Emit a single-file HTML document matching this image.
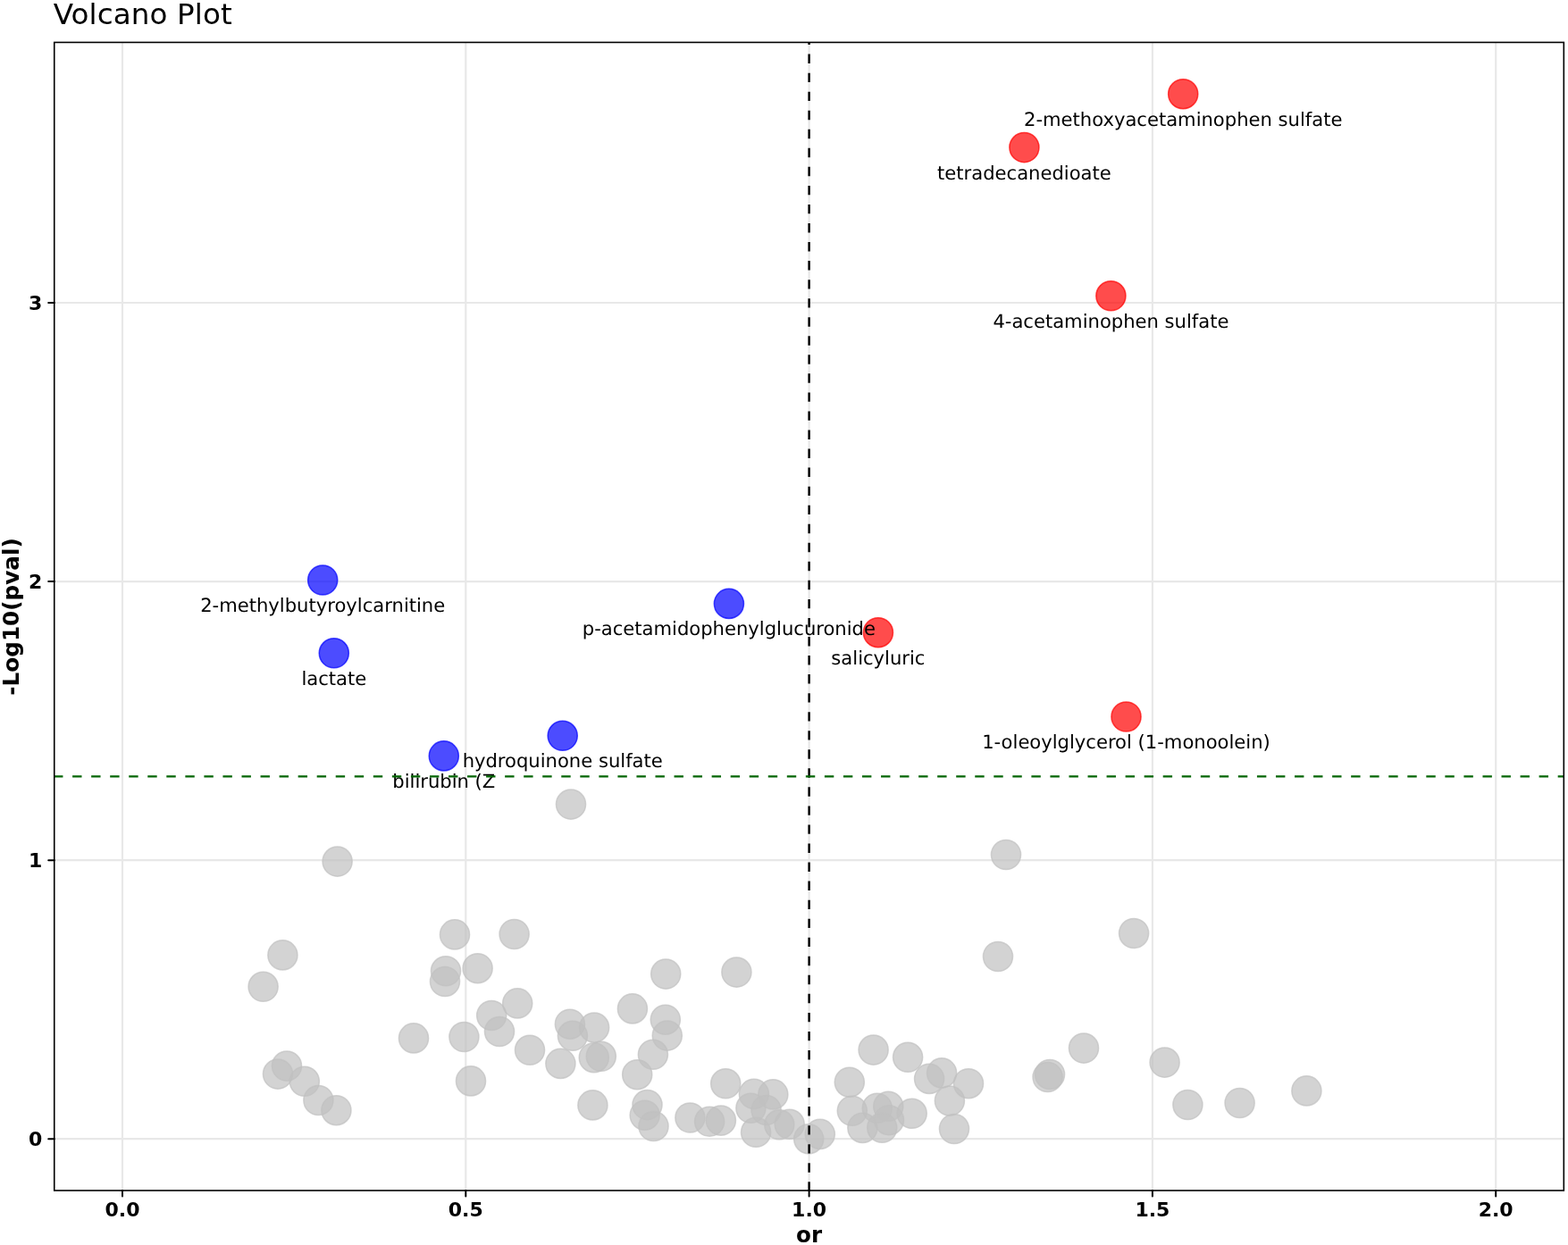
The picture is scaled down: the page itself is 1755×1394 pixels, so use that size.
<!DOCTYPE html>
<html><head><meta charset="utf-8"><title>Volcano Plot</title>
<style>
html,body{margin:0;padding:0;background:#ffffff;}
svg{display:block;}
text{font-family:"DejaVu Sans","Liberation Sans",sans-serif;}
</style></head><body>
<svg width="1755" height="1394" viewBox="0 0 1755 1394">
<rect x="0" y="0" width="1755" height="1394" fill="#ffffff"/>
<text transform="translate(59.7,26.85)" x="0" y="0" font-size="32.6" letter-spacing="0.1" fill="#000">Volcano Plot</text>
<defs><clipPath id="pc"><rect x="60.05" y="47.45" width="1690.25" height="1285.55"/></clipPath></defs>
<g clip-path="url(#pc)">
<line x1="137.00" y1="47.45" x2="137.00" y2="1333.0" stroke="#E8E8E8" stroke-width="2.2"/>
<line x1="521.30" y1="47.45" x2="521.30" y2="1333.0" stroke="#E8E8E8" stroke-width="2.2"/>
<line x1="905.60" y1="47.45" x2="905.60" y2="1333.0" stroke="#E8E8E8" stroke-width="2.2"/>
<line x1="1289.90" y1="47.45" x2="1289.90" y2="1333.0" stroke="#E8E8E8" stroke-width="2.2"/>
<line x1="1674.20" y1="47.45" x2="1674.20" y2="1333.0" stroke="#E8E8E8" stroke-width="2.2"/>
<line x1="60.75" y1="1275.20" x2="1750.3" y2="1275.20" stroke="#E8E8E8" stroke-width="2.2"/>
<line x1="60.75" y1="963.13" x2="1750.3" y2="963.13" stroke="#E8E8E8" stroke-width="2.2"/>
<line x1="60.75" y1="651.06" x2="1750.3" y2="651.06" stroke="#E8E8E8" stroke-width="2.2"/>
<line x1="60.75" y1="338.99" x2="1750.3" y2="338.99" stroke="#E8E8E8" stroke-width="2.2"/>
<g fill="#C0C0C0" fill-opacity="0.7" stroke="#C0C0C0" stroke-opacity="0.7" stroke-width="1.5">
<circle cx="316.4" cy="1069.4" r="16.55"/>
<circle cx="294.6" cy="1104.8" r="16.55"/>
<circle cx="321.0" cy="1193.6" r="16.55"/>
<circle cx="311.0" cy="1202.6" r="16.55"/>
<circle cx="340.8" cy="1210.8" r="16.55"/>
<circle cx="356.4" cy="1232.0" r="16.55"/>
<circle cx="376.4" cy="1243.2" r="16.55"/>
<circle cx="463.0" cy="1162.4" r="16.55"/>
<circle cx="509.0" cy="1046.4" r="16.55"/>
<circle cx="499.0" cy="1087.2" r="16.55"/>
<circle cx="498.0" cy="1099.0" r="16.55"/>
<circle cx="534.6" cy="1084.2" r="16.55"/>
<circle cx="519.4" cy="1161.0" r="16.55"/>
<circle cx="527.0" cy="1210.4" r="16.55"/>
<circle cx="575.6" cy="1046.0" r="16.55"/>
<circle cx="579.2" cy="1123.4" r="16.55"/>
<circle cx="550.2" cy="1137.0" r="16.55"/>
<circle cx="559.0" cy="1155.0" r="16.55"/>
<circle cx="593.0" cy="1175.8" r="16.55"/>
<circle cx="627.4" cy="1190.9" r="16.55"/>
<circle cx="637.9" cy="1146.7" r="16.55"/>
<circle cx="640.9" cy="1159.8" r="16.55"/>
<circle cx="665.1" cy="1150.6" r="16.55"/>
<circle cx="664.8" cy="1184.2" r="16.55"/>
<circle cx="672.8" cy="1182.8" r="16.55"/>
<circle cx="663.4" cy="1237.4" r="16.55"/>
<circle cx="707.9" cy="1129.4" r="16.55"/>
<circle cx="745.2" cy="1090.6" r="16.55"/>
<circle cx="824.4" cy="1088.6" r="16.55"/>
<circle cx="744.8" cy="1141.7" r="16.55"/>
<circle cx="746.8" cy="1159.6" r="16.55"/>
<circle cx="730.9" cy="1180.8" r="16.55"/>
<circle cx="713.2" cy="1203.2" r="16.55"/>
<circle cx="724.5" cy="1237.1" r="16.55"/>
<circle cx="721.7" cy="1248.7" r="16.55"/>
<circle cx="731.5" cy="1261.0" r="16.55"/>
<circle cx="772.4" cy="1251.5" r="16.55"/>
<circle cx="794.1" cy="1255.8" r="16.55"/>
<circle cx="806.9" cy="1254.6" r="16.55"/>
<circle cx="812.2" cy="1213.3" r="16.55"/>
<circle cx="843.9" cy="1224.9" r="16.55"/>
<circle cx="865.3" cy="1225.4" r="16.55"/>
<circle cx="840.4" cy="1240.8" r="16.55"/>
<circle cx="857.6" cy="1243.0" r="16.55"/>
<circle cx="846.1" cy="1267.8" r="16.55"/>
<circle cx="872.3" cy="1259.3" r="16.55"/>
<circle cx="883.7" cy="1258.8" r="16.55"/>
<circle cx="905.2" cy="1275.2" r="16.55"/>
<circle cx="917.8" cy="1269.9" r="16.55"/>
<circle cx="950.8" cy="1211.7" r="16.55"/>
<circle cx="953.8" cy="1243.8" r="16.55"/>
<circle cx="965.4" cy="1262.9" r="16.55"/>
<circle cx="981.8" cy="1240.8" r="16.55"/>
<circle cx="994.3" cy="1238.8" r="16.55"/>
<circle cx="995.0" cy="1254.2" r="16.55"/>
<circle cx="987.3" cy="1262.8" r="16.55"/>
<circle cx="1020.7" cy="1246.8" r="16.55"/>
<circle cx="1016.1" cy="1183.8" r="16.55"/>
<circle cx="977.6" cy="1175.6" r="16.55"/>
<circle cx="1040.1" cy="1207.9" r="16.55"/>
<circle cx="1054.1" cy="1201.4" r="16.55"/>
<circle cx="1084.0" cy="1213.2" r="16.55"/>
<circle cx="1062.9" cy="1232.6" r="16.55"/>
<circle cx="1068.0" cy="1264.0" r="16.55"/>
<circle cx="1117.0" cy="1071.0" r="16.55"/>
<circle cx="1126.0" cy="957.0" r="16.55"/>
<circle cx="1175.0" cy="1203.0" r="16.55"/>
<circle cx="1172.6" cy="1206.0" r="16.55"/>
<circle cx="1213.0" cy="1173.6" r="16.55"/>
<circle cx="1269.1" cy="1045.0" r="16.55"/>
<circle cx="1303.6" cy="1189.6" r="16.55"/>
<circle cx="1329.4" cy="1237.0" r="16.55"/>
<circle cx="1387.6" cy="1235.0" r="16.55"/>
<circle cx="1462.4" cy="1221.4" r="16.55"/>
<circle cx="377.6" cy="964.6" r="16.55"/>
<circle cx="639.0" cy="900.6" r="16.55"/>
</g>
<g fill="#FF0000" fill-opacity="0.7" stroke="#FF0000" stroke-opacity="0.7" stroke-width="1.5">
<circle cx="1324.2" cy="105.2" r="16.55"/>
<circle cx="1146.4" cy="165.1" r="16.55"/>
<circle cx="1243.4" cy="331.3" r="16.55"/>
<circle cx="982.9" cy="708.2" r="16.55"/>
<circle cx="1260.5" cy="802.5" r="16.55"/>
</g>
<g fill="#0000FF" fill-opacity="0.7" stroke="#0000FF" stroke-opacity="0.7" stroke-width="1.5">
<circle cx="361.2" cy="649.5" r="16.55"/>
<circle cx="373.8" cy="731.3" r="16.55"/>
<circle cx="815.9" cy="675.9" r="16.55"/>
<circle cx="629.7" cy="823.8" r="16.55"/>
<circle cx="496.8" cy="846.4" r="16.55"/>
</g>
<g font-size="21.1" fill="#000" text-anchor="middle" text-rendering="geometricPrecision">
<text x="1324.2" y="140.7">2-methoxyacetaminophen sulfate</text>
<text x="1146.4" y="200.6">tetradecanedioate</text>
<text x="1243.4" y="366.8">4-acetaminophen sulfate</text>
<text x="982.9" y="743.7">salicyluric</text>
<text x="1260.5" y="838.0">1-oleoylglycerol (1-monoolein)</text>
<text x="361.2" y="685.0">2-methylbutyroylcarnitine</text>
<text x="373.8" y="766.8">lactate</text>
<text x="815.9" y="711.4">p-acetamidophenylglucuronide</text>
<text x="629.7" y="859.2">hydroquinone sulfate</text>
<text x="496.8" y="881.9">bilirubin (Z</text>
</g>
<line x1="905.60" y1="1333.0" x2="905.60" y2="47.45" stroke="#000" stroke-width="2.4" stroke-dasharray="10.4 10.645" stroke-dashoffset="0.7"/>
<line x1="60.05" y1="869.4" x2="1750.3" y2="869.4" stroke="#006400" stroke-width="2.4" stroke-dasharray="10.4 10.645"/>
</g>
<rect x="60.75" y="47.45" width="1689.55" height="1285.55" fill="none" stroke="#000" stroke-width="1.6"/>
<g stroke="#000" stroke-width="2" stroke-linecap="round">
<line x1="137.00" y1="1333.0" x2="137.00" y2="1339.6"/>
<line x1="521.30" y1="1333.0" x2="521.30" y2="1339.6"/>
<line x1="905.60" y1="1333.0" x2="905.60" y2="1339.6"/>
<line x1="1289.90" y1="1333.0" x2="1289.90" y2="1339.6"/>
<line x1="1674.20" y1="1333.0" x2="1674.20" y2="1339.6"/>
<line x1="54.2" y1="1275.20" x2="60.75" y2="1275.20"/>
<line x1="54.2" y1="963.13" x2="60.75" y2="963.13"/>
<line x1="54.2" y1="651.06" x2="60.75" y2="651.06"/>
<line x1="54.2" y1="338.99" x2="60.75" y2="338.99"/>
</g>
<g font-size="22" font-weight="bold" fill="#000" text-anchor="middle">
<text x="137.00" y="1361.9">0.0</text>
<text x="521.30" y="1361.9">0.5</text>
<text x="905.60" y="1361.9">1.0</text>
<text x="1289.90" y="1361.9">1.5</text>
<text x="1674.20" y="1361.9">2.0</text>
</g>
<g font-size="22" font-weight="bold" fill="#000" text-anchor="end">
<text x="47.4" y="1283.30">0</text>
<text x="47.4" y="971.23">1</text>
<text x="47.4" y="659.16">2</text>
<text x="47.4" y="347.09">3</text>
</g>
<text x="905.6" y="1390.7" font-size="24.6" font-weight="bold" text-anchor="middle" fill="#000">or</text>
<text transform="translate(21.3,690.5) rotate(-90)" x="0" y="0" font-size="24.7" font-weight="bold" text-anchor="middle" fill="#000">-Log10(pval)</text>
</svg>
</body></html>
